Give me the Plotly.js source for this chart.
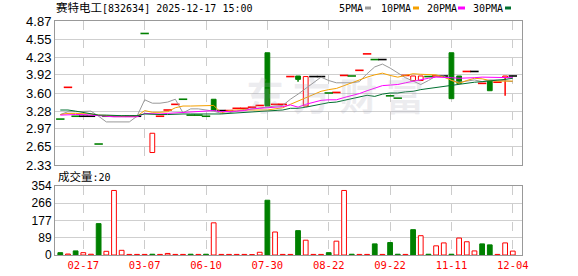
<!DOCTYPE html>
<html><head><meta charset="utf-8">
<script src="https://cdn.plot.ly/plotly-3.0.1.min.js"></script>
<style>html,body{margin:0;padding:0;background:#fff;}#chart{width:578px;height:276px;}</style>
</head><body><div id="chart"></div>
<script>
const dates = ['02-05','02-10','02-13','02-17','02-19','02-21','02-25','02-27','03-03','03-04',
 '03-06','03-07','03-12','03-20','03-28','04-08','04-18','04-29','05-15','06-10',
 '06-12','06-17','06-20','06-26','07-03','07-10','07-18','07-30','07-31','08-04',
 '08-06','08-07','08-08','08-12','08-14','08-22','08-25','08-26','08-28','09-02',
 '09-05','09-10','09-16','09-22','09-24','09-30','10-10','10-13','10-20','10-24',
 '10-30','11-11','11-13','11-17','11-19','11-21','11-25','11-27','12-02','12-04'];
const open = [3.15,3.69,3.20,3.19,3.19,2.71,3.20,3.20,3.20,3.19,
 3.19,4.66,2.55,3.18,3.29,3.39,3.50,3.22,3.22,3.20,
 3.49,3.29,3.28,3.32,3.32,3.34,3.37,4.31,3.39,3.39,
 3.88,3.90,3.37,3.89,3.89,3.61,3.60,3.90,3.91,3.99,
 4.28,4.20,4.19,3.56,3.52,3.90,3.82,3.82,3.90,3.89,
 3.90,4.31,3.90,3.97,3.98,3.76,3.81,3.78,3.88,3.90];
const high = [3.15,3.70,3.20,3.19,3.19,2.71,3.20,3.20,3.20,3.19,
 3.19,4.66,2.89,3.19,3.30,3.40,3.50,3.22,3.22,3.20,
 3.49,3.29,3.29,3.33,3.33,3.35,3.38,4.31,3.40,3.40,
 3.89,3.90,3.89,3.89,3.89,3.61,3.61,3.91,3.91,4.00,
 4.29,4.20,4.19,3.56,3.52,3.91,3.90,3.90,3.90,3.90,
 3.90,4.31,3.90,3.98,3.98,3.77,3.81,3.79,3.90,3.90];
const low = [3.14,3.69,3.19,3.19,3.19,2.70,3.19,3.19,3.19,3.19,
 3.19,4.65,2.55,3.18,3.29,3.39,3.49,3.21,3.21,3.19,
 3.29,3.29,3.28,3.32,3.32,3.34,3.37,3.37,3.39,3.39,
 3.88,3.80,3.37,3.89,3.89,3.60,3.60,3.90,3.90,3.99,
 4.28,4.19,4.19,3.55,3.51,3.90,3.82,3.82,3.89,3.89,
 3.90,3.50,3.77,3.97,3.98,3.76,3.64,3.78,3.55,3.90];
const close = [3.14,3.70,3.19,3.19,3.19,2.70,3.19,3.19,3.19,3.19,
 3.19,4.65,2.89,3.19,3.30,3.40,3.49,3.21,3.21,3.19,
 3.29,3.29,3.29,3.33,3.33,3.35,3.38,3.37,3.40,3.40,
 3.89,3.84,3.89,3.89,3.89,3.60,3.61,3.91,3.90,4.00,
 4.29,4.19,4.19,3.55,3.51,3.91,3.90,3.90,3.89,3.90,
 3.90,3.50,3.77,3.98,3.98,3.77,3.64,3.79,3.90,3.90];
const volume = [12,5,21,12,4,161,19,331,24,3,
 3,3,4,3,8,3,3,4,3,4,
 165,3,3,3,3,2,14,281,118,3,
 3,125,76,3,3,12,71,331,4,3,
 3,57,3,64,4,3,130,99,4,47,
 62,4,87,68,21,57,52,3,62,20];
const priorClose = 3.20;
const ma5 = [3.22,3.27,3.27,3.27,3.28,3.19,3.09,3.09,3.09,3.09,
 3.19,3.48,3.42,3.42,3.44,3.49,3.25,3.32,3.32,3.30,
 3.28,3.24,3.25,3.28,3.31,3.32,3.34,3.35,3.37,3.38,
 3.49,3.58,3.68,3.78,3.88,3.82,3.78,3.78,3.78,3.80,
 3.94,4.06,4.11,4.04,3.95,3.87,3.81,3.75,3.82,3.90,
 3.90,3.82,3.79,3.81,3.83,3.80,3.83,3.83,3.82,3.80];
const ma10 = [3.22,3.24,3.24,3.24,3.23,3.21,3.20,3.20,3.19,3.19,
 3.19,3.29,3.26,3.26,3.27,3.34,3.37,3.37,3.37,3.37,
 3.38,3.25,3.29,3.30,3.30,3.30,3.29,3.30,3.32,3.34,
 3.40,3.46,3.52,3.57,3.63,3.66,3.68,3.73,3.78,3.84,
 3.88,3.92,3.95,3.91,3.88,3.91,3.94,3.93,3.93,3.92,
 3.88,3.82,3.77,3.82,3.86,3.85,3.82,3.81,3.81,3.81];
const ma20 = [3.21,3.22,3.22,3.22,3.21,3.19,3.18,3.18,3.18,3.18,
 3.18,3.24,3.23,3.23,3.24,3.25,3.26,3.26,3.27,3.28,
 3.29,3.27,3.27,3.28,3.29,3.32,3.33,3.34,3.35,3.36,
 3.39,3.35,3.40,3.44,3.47,3.48,3.48,3.52,3.55,3.59,
 3.64,3.69,3.73,3.74,3.75,3.78,3.81,3.83,3.86,3.88,
 3.88,3.87,3.86,3.86,3.87,3.88,3.88,3.87,3.87,3.87];
const ma30 = [3.30,3.30,3.28,3.26,3.24,3.21,3.21,3.20,3.20,3.20,
 3.20,3.23,3.22,3.22,3.22,3.23,3.23,3.23,3.23,3.22,
 3.23,3.23,3.24,3.25,3.25,3.26,3.27,3.28,3.29,3.30,
 3.33,3.33,3.35,3.38,3.40,3.43,3.44,3.47,3.49,3.52,
 3.56,3.54,3.58,3.60,3.60,3.62,3.63,3.66,3.68,3.70,
 3.72,3.73,3.75,3.77,3.79,3.80,3.81,3.83,3.84,3.86];
const priceTicks = ['2.33','2.65','2.97','3.28','3.60','3.92','4.23','4.55','4.87'];
const volumeTicks = ['0','89','177','266','354'];
const dateTicks = ['02-17','03-07','06-10','07-30','08-22','09-22','11-11','12-04'];
const maNames = ['5PMA','10PMA','20PMA','30PMA'];

const RED='#ff0000', GREEN='#008000', BLACK='#000000';
const maColors = ['#999999','#f5a000','#ff00ff','#007030'];

const bodyUp={x:[],base:[],y:[]}, bodyDown={x:[],base:[],y:[]};
const wickUp={x:[],y:[]}, wickDown={x:[],y:[]};
const dashes={red:{x:[],y:[]},green:{x:[],y:[]},black:{x:[],y:[]}};
dates.forEach((d,i)=>{
  const o=open[i], c=close[i], h=high[i], l=low[i];
  const diff=Math.round((c-o)*100);
  if(Math.abs(diff)<=1){
    const k=diff>0?'red':(diff<0?'green':'black');
    dashes[k].x.push(d); dashes[k].y.push(c);
  } else {
    const b=diff>0?bodyUp:bodyDown, w=diff>0?wickUp:wickDown;
    const top=Math.max(o,c), bot=Math.min(o,c);
    b.x.push(d); b.base.push(bot); b.y.push(top-bot);
    if(h>top+0.001){w.x.push(d,d,null);w.y.push(h,top,null);}
    if(l<bot-0.001){w.x.push(d,d,null);w.y.push(bot,l,null);}
  }
});
const volUp={x:[],y:[]}, volDown={x:[],y:[]};
dates.forEach((d,i)=>{
  const prev=i===0?priorClose:close[i-1];
  const t=close[i]>=prev?volUp:volDown;
  t.x.push(d); t.y.push(volume[i]);
});

const W=0.62;
const traces=[];
const lineTraces=[ma5,ma10,ma20,ma30].map((m,k)=>({type:'scatter',mode:'lines',x:dates,y:m,line:{color:maColors[k],width:1},xaxis:'x',yaxis:'y'}));
traces.push(
  {type:'bar',x:bodyUp.x,y:bodyUp.y,base:bodyUp.base,width:W,marker:{color:'#ffffff',line:{color:RED,width:1}},xaxis:'x',yaxis:'y'},
  {type:'bar',x:bodyDown.x,y:bodyDown.y,base:bodyDown.base,width:W,marker:{color:GREEN,line:{color:GREEN,width:1}},xaxis:'x',yaxis:'y'},
  {type:'scatter',mode:'lines',x:wickUp.x,y:wickUp.y,line:{color:RED,width:1.5},connectgaps:false,xaxis:'x',yaxis:'y'},
  {type:'scatter',mode:'lines',x:wickDown.x,y:wickDown.y,line:{color:GREEN,width:1.5},connectgaps:false,xaxis:'x',yaxis:'y'},
  {type:'scatter',mode:'markers',x:dashes.red.x,y:dashes.red.y,marker:{symbol:'line-ew',size:6,line:{color:RED,width:1.6}},xaxis:'x',yaxis:'y'},
  {type:'scatter',mode:'markers',x:dashes.green.x,y:dashes.green.y,marker:{symbol:'line-ew',size:6,line:{color:GREEN,width:1.6}},xaxis:'x',yaxis:'y'},
  {type:'scatter',mode:'markers',x:dashes.black.x,y:dashes.black.y,marker:{symbol:'line-ew',size:6,line:{color:BLACK,width:1.6}},xaxis:'x',yaxis:'y'},
  ...lineTraces
);
traces.push({type:'bar',x:volUp.x,y:volUp.y,width:W,marker:{color:'#ffffff',line:{color:RED,width:1}},xaxis:'x2',yaxis:'y2'});
traces.push({type:'bar',x:volDown.x,y:volDown.y,width:W,marker:{color:GREEN,line:{color:GREEN,width:1}},xaxis:'x2',yaxis:'y2'});

const L=55, R=522, T=21, B=255;
const px=X=>(X-L)/(R-L), py=Y=>(B-Y)/(B-T);
const xr=[-0.69,60.2];
const axCommon={showline:true,linecolor:'#999999',linewidth:1,mirror:true,zeroline:false,ticks:'',fixedrange:true};

const legendX=[338,380,425.5,471.5];
const legendSq=[[365,371],[413,419],[458,465],[505,511]];
const annotations=[
  {xref:'paper',yref:'paper',x:px(54),y:py(8),xanchor:'left',yanchor:'middle',showarrow:false,
   text:'<span style="font-size:11.5px">赛特电工</span>[832634] 2025-12-17 15:00',
   font:{family:'DejaVu Sans Mono, Noto Sans CJK SC',size:10,color:'#000'}},
  {xref:'paper',yref:'paper',x:px(56),y:py(177),xanchor:'left',yanchor:'middle',showarrow:false,
   text:'<span style="font-size:11.5px">成交量</span>:'+volume[volume.length-1],
   font:{family:'DejaVu Sans Mono, Noto Sans CJK SC',size:10,color:'#000'}},
  {xref:'paper',yref:'paper',x:px(335),y:py(93),xanchor:'center',yanchor:'middle',showarrow:false,
   text:'东 方 财 富',font:{family:'Noto Sans CJK SC',size:38,color:'rgba(170,170,185,0.22)',weight:700}},
];
maNames.forEach((n,k)=>annotations.push({xref:'paper',yref:'paper',x:px(legendX[k]-1),y:py(9),xanchor:'left',yanchor:'middle',
  showarrow:false,text:n,font:{family:'DejaVu Sans Mono',size:10,color:'#000'}}));
const shapes=legendSq.map((s,k)=>({type:'rect',xref:'paper',yref:'paper',x0:px(s[0]),x1:px(s[1]),y0:py(9.5),y1:py(6.5),
  fillcolor:maColors[k],line:{width:0}}));

const layout={
  width:578,height:276,margin:{l:L,r:578-R,t:T,b:276-B,pad:0},
  paper_bgcolor:'#fff',plot_bgcolor:'#fff',showlegend:false,barmode:'overlay',
  hovermode:false,
  xaxis:Object.assign({},axCommon,{type:'category',categoryorder:'array',categoryarray:dates,anchor:'y',range:xr,tickmode:'array',tickvals:dateTicks,showticklabels:false,
    showgrid:true,gridcolor:'#cccccc',griddash:'dash',gridwidth:1}),
  yaxis:Object.assign({},axCommon,{domain:[py(165),1],range:[2.33,4.87],tickmode:'array',tickvals:priceTicks.map(Number),ticktext:priceTicks,
    showgrid:true,gridcolor:'#cfcfcf',gridwidth:1,tickfont:{family:'Liberation Sans, Arial',size:13,color:'#000'}}),
  xaxis2:Object.assign({},axCommon,{type:'category',categoryorder:'array',categoryarray:dates,anchor:'y2',matches:'x',range:xr,tickmode:'array',tickvals:dateTicks,ticktext:dateTicks,
    showgrid:true,gridcolor:'#cccccc',griddash:'dash',gridwidth:1,tickfont:{family:'DejaVu Sans Mono',size:10.5,color:RED}}),
  yaxis2:Object.assign({},axCommon,{domain:[0,py(186)],range:[0,354],tickmode:'array',tickvals:volumeTicks.map(Number),ticktext:volumeTicks,
    showgrid:true,gridcolor:'#cfcfcf',gridwidth:1,tickfont:{family:'Liberation Sans, Arial',size:12,color:'#000'}}),
  annotations:annotations,shapes:shapes
};
Plotly.newPlot('chart',traces,layout,{staticPlot:true,displayModeBar:false});
</script></body></html>
